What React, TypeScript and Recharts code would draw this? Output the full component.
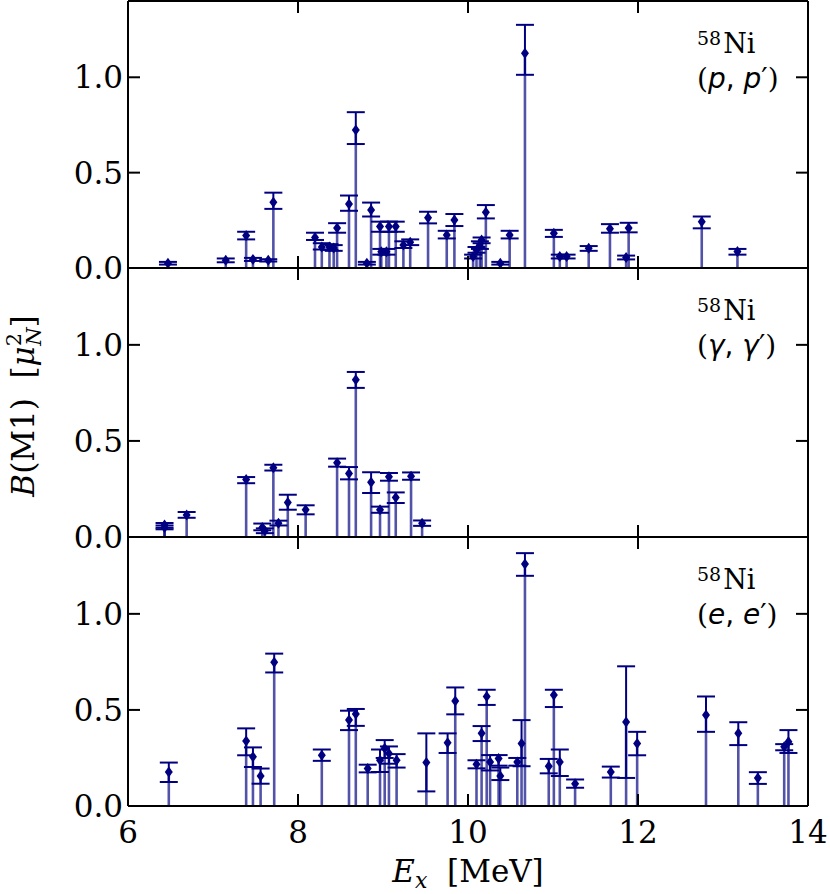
import React from 'react';
import { ComposedChart, Scatter, XAxis, YAxis, ErrorBar } from 'recharts';

// (p,p') panel
const ppEnergy = [6.47, 7.15, 7.39, 7.47, 7.65, 7.71, 8.2, 8.28, 8.37, 8.42, 8.46, 8.6, 8.68, 8.81, 8.86, 8.965, 8.98, 9.04, 9.07, 9.15, 9.24, 9.32, 9.53, 9.75, 9.84, 10.06, 10.1, 10.14, 10.16, 10.21, 10.38, 10.49, 10.67, 11.01, 11.08, 11.16, 11.42, 11.67, 11.86, 11.89, 12.75, 13.17];
const ppValue = [0.025, 0.04, 0.17, 0.045, 0.04, 0.345, 0.16, 0.11, 0.11, 0.105, 0.21, 0.335, 0.724, 0.025, 0.304, 0.217, 0.085, 0.085, 0.217, 0.217, 0.12, 0.135, 0.264, 0.173, 0.252, 0.06, 0.094, 0.12, 0.147, 0.292, 0.025, 0.173, 1.126, 0.182, 0.06, 0.06, 0.103, 0.206, 0.055, 0.21, 0.243, 0.086];
const ppLow = [0.018, 0.03, 0.15, 0.037, 0.034, 0.31, 0.147, 0.097, 0.095, 0.09, 0.185, 0.3, 0.65, 0.018, 0.27, 0.19, 0.07, 0.07, 0.19, 0.19, 0.105, 0.12, 0.234, 0.155, 0.22, 0.05, 0.08, 0.1, 0.13, 0.26, 0.018, 0.155, 1.013, 0.163, 0.05, 0.05, 0.09, 0.185, 0.045, 0.187, 0.208, 0.07];
const ppHigh = [0.032, 0.05, 0.19, 0.053, 0.046, 0.395, 0.185, 0.13, 0.125, 0.12, 0.235, 0.38, 0.817, 0.032, 0.343, 0.243, 0.1, 0.1, 0.243, 0.243, 0.14, 0.15, 0.295, 0.195, 0.283, 0.07, 0.11, 0.14, 0.16, 0.33, 0.032, 0.195, 1.275, 0.2, 0.07, 0.07, 0.115, 0.23, 0.065, 0.237, 0.27, 0.1];

// (gamma,gamma') panel
const ggEnergy = [6.43, 6.43, 6.69, 7.39, 7.58, 7.61, 7.71, 7.77, 7.88, 8.09, 8.46, 8.6, 8.68, 8.86, 8.965, 9.07, 9.15, 9.33, 9.46];
const ggValue = [0.063, 0.05, 0.115, 0.299, 0.05, 0.033, 0.36, 0.072, 0.18, 0.142, 0.387, 0.33, 0.818, 0.285, 0.142, 0.313, 0.206, 0.316, 0.072];
const ggLow = [0.048, 0.04, 0.1, 0.28, 0.035, 0.02, 0.346, 0.06, 0.142, 0.118, 0.366, 0.3, 0.776, 0.229, 0.126, 0.293, 0.177, 0.298, 0.058];
const ggHigh = [0.073, 0.06, 0.13, 0.312, 0.07, 0.045, 0.376, 0.085, 0.22, 0.165, 0.408, 0.364, 0.859, 0.337, 0.158, 0.333, 0.232, 0.336, 0.086];

// (e,e') panel
const eeEnergy = [6.48, 7.39, 7.47, 7.56, 7.72, 8.28, 8.6, 8.68, 8.82, 8.965, 9.02, 9.07, 9.16, 9.51, 9.76, 9.85, 10.1, 10.16, 10.22, 10.26, 10.36, 10.38, 10.58, 10.63, 10.67, 10.95, 11.01, 11.08, 11.26, 11.68, 11.86, 11.99, 12.8, 13.18, 13.41, 13.72, 13.77];
const eeValue = [0.177, 0.338, 0.256, 0.156, 0.748, 0.264, 0.448, 0.479, 0.195, 0.238, 0.3, 0.273, 0.238, 0.226, 0.329, 0.547, 0.217, 0.378, 0.57, 0.229, 0.247, 0.156, 0.229, 0.325, 1.259, 0.207, 0.578, 0.229, 0.116, 0.177, 0.437, 0.325, 0.474, 0.378, 0.146, 0.308, 0.334];
const eeLow = [0.125, 0.264, 0.203, 0.116, 0.695, 0.235, 0.395, 0.417, 0.175, 0.177, 0.25, 0.22, 0.2, 0.076, 0.276, 0.477, 0.196, 0.338, 0.526, 0.185, 0.21, 0.135, 0.21, 0.207, 1.198, 0.17, 0.515, 0.156, 0.095, 0.148, 0.146, 0.264, 0.386, 0.317, 0.115, 0.29, 0.276];
const eeHigh = [0.226, 0.404, 0.305, 0.195, 0.793, 0.294, 0.496, 0.505, 0.215, 0.294, 0.343, 0.31, 0.27, 0.378, 0.378, 0.617, 0.238, 0.416, 0.605, 0.265, 0.265, 0.2, 0.25, 0.447, 1.316, 0.245, 0.605, 0.294, 0.138, 0.205, 0.727, 0.386, 0.57, 0.436, 0.176, 0.322, 0.395];

const xTicks = [6, 8, 10, 12, 14];
const xTickLabels = ['6', '8', '10', '12', '14'];
const yTicks = [0, 0.5, 1.0];
const yTickLabels = ['0.0', '0.5', '1.0'];
const xDomain = [6, 14];
const yDomain = [0, 1.4];

const MARK = '#000080';
const STEM = 'rgba(0,0,128,0.68)';
const SERIF = '"DejaVu Serif", serif';
const SANS = '"DejaVu Sans", sans-serif';
const TICK_LEN = 12;

function build(E: number[], V: number[], L: number[], H: number[]) {
  return E.map((x, i) => ({
    x,
    y: V[i],
    err: [V[i] - L[i], H[i] - V[i]],
    stem: [V[i], 0],
  }));
}

const Diamond = (props: any) => {
  const { cx, cy } = props;
  if (cx == null || cy == null) return <g />;
  return (
    <path
      d={`M${cx},${cy - 5.5} L${cx + 4},${cy} L${cx},${cy + 5.5} L${cx - 4},${cy} Z`}
      fill={MARK}
    />
  );
};

const Empty = () => <g />;

const LeftTick = (props: any) => {
  const { x, y, payload } = props;
  const idx = yTicks.indexOf(payload.value);
  return (
    <g>
      <line x1={x} y1={y} x2={x + TICK_LEN} y2={y} stroke="#000" strokeWidth={2} />
      <text x={x - 5} y={y} dy="0.36em" textAnchor="end" fontFamily={SERIF} fontSize={31} fill="#000">
        {idx >= 0 ? yTickLabels[idx] : ''}
      </text>
    </g>
  );
};

const RightTick = (props: any) => {
  const { x, y } = props;
  return <line x1={x} y1={y} x2={x - TICK_LEN} y2={y} stroke="#000" strokeWidth={2} />;
};

const TopTick = (props: any) => {
  const { x, y } = props;
  return <line x1={x} y1={y} x2={x} y2={y + TICK_LEN} stroke="#000" strokeWidth={2} />;
};

const makeBottomTick = (show: boolean) => (props: any) => {
  const { x, y, payload } = props;
  const idx = xTicks.indexOf(payload.value);
  return (
    <g>
      <line x1={x} y1={y} x2={x} y2={y - TICK_LEN} stroke="#000" strokeWidth={2} />
      {show ? (
        <text x={x} y={y + 37} textAnchor="middle" fontFamily={SERIF} fontSize={31} fill="#000">
          {idx >= 0 ? xTickLabels[idx] : ''}
        </text>
      ) : null}
    </g>
  );
};

const PLOT_LEFT = 128;
const PLOT_RIGHT = 808;
const Y_LEFT_W = 60;
const Y_RIGHT_W = 10;
const X_H = 10;

function Panel({ data, top, height, showX }: { data: any[]; top: number; height: number; showX: boolean }) {
  const mTop = 22;
  const mBottom = showX ? 894 - (top + height) : 22;
  const axisLine = { stroke: '#000', strokeWidth: 2 };
  const bottomTick = makeBottomTick(showX);
  return (
    <div style={{ position: 'absolute', left: 0, top: top - mTop }}>
      <ComposedChart
        width={830}
        height={height + mTop + mBottom}
        data={data}
        style={{ overflow: 'visible' }}
        margin={{
          top: mTop - X_H,
          bottom: mBottom - X_H,
          left: PLOT_LEFT - Y_LEFT_W,
          right: 830 - PLOT_RIGHT - Y_RIGHT_W,
        }}
      >
        <XAxis
          xAxisId="b"
          type="number"
          dataKey="x"
          domain={xDomain}
          ticks={xTicks}
          interval={0}
          allowDataOverflow
          height={X_H}
          tickSize={0}
          tickMargin={0}
          tickLine={false}
          axisLine={axisLine}
          tick={bottomTick}
        />
        <XAxis
          xAxisId="t"
          orientation="top"
          type="number"
          dataKey="x"
          domain={xDomain}
          ticks={xTicks}
          interval={0}
          allowDataOverflow
          height={X_H}
          tickSize={0}
          tickMargin={0}
          tickLine={false}
          axisLine={axisLine}
          tick={TopTick}
        />
        <YAxis
          yAxisId="l"
          type="number"
          dataKey="y"
          domain={yDomain}
          ticks={yTicks}
          interval={0}
          allowDataOverflow
          width={Y_LEFT_W}
          tickSize={0}
          tickMargin={0}
          tickLine={false}
          axisLine={axisLine}
          tick={LeftTick}
        />
        <YAxis
          yAxisId="r"
          orientation="right"
          type="number"
          dataKey="y"
          domain={yDomain}
          ticks={yTicks}
          interval={0}
          allowDataOverflow
          width={Y_RIGHT_W}
          tickSize={0}
          tickMargin={0}
          tickLine={false}
          axisLine={axisLine}
          tick={RightTick}
        />
        <Scatter xAxisId="b" yAxisId="l" dataKey="y" shape={Empty} isAnimationActive={false}>
          <ErrorBar dataKey="stem" direction="y" width={0} stroke={STEM} strokeWidth={2.6} isAnimationActive={false} />
        </Scatter>
        <Scatter xAxisId="b" yAxisId="l" dataKey="y" shape={Diamond} isAnimationActive={false}>
          <ErrorBar dataKey="err" direction="y" width={9} stroke={MARK} strokeWidth={2} isAnimationActive={false} />
        </Scatter>
      </ComposedChart>
    </div>
  );
}

function Annotation({ top, letter }: { top: number; letter: string }) {
  const x = 697;
  return (
    <g>
      <text x={x} y={top + 52} fontFamily={SERIF} fontSize={27} fill="#000">
        <tspan fontSize={19} dy={-8}>58</tspan>
        <tspan dy={8} dx={2}>Ni</tspan>
      </text>
      <text x={x} y={top + 87} fontFamily={SANS} fontSize={28} fill="#000" style={{ whiteSpace: 'pre' }}>
        <tspan fontFamily={SERIF}>(</tspan>
        <tspan fontStyle="italic">{letter}</tspan>
        <tspan>, </tspan>
        <tspan fontStyle="italic">{letter}</tspan>
        <tspan>′</tspan>
        <tspan fontFamily={SERIF}>)</tspan>
      </text>
    </g>
  );
}

export default function App() {
  const pp = build(ppEnergy, ppValue, ppLow, ppHigh);
  const gg = build(ggEnergy, ggValue, ggLow, ggHigh);
  const ee = build(eeEnergy, eeValue, eeLow, eeHigh);
  return (
    <div style={{ position: 'absolute', left: 0, top: 0, width: 830, height: 894, background: '#fff' }}>
      <Panel data={pp} top={1} height={267} showX={false} />
      <Panel data={gg} top={268} height={269} showX={false} />
      <Panel data={ee} top={537} height={269} showX={true} />
      <svg
        width={830}
        height={894}
        style={{ position: 'absolute', left: 0, top: 0, pointerEvents: 'none' }}
      >
        <Annotation top={1} letter="p" />
        <Annotation top={268} letter="γ" />
        <Annotation top={537} letter="e" />
        <text x={468} y={882} textAnchor="middle" fontFamily={SERIF} fontSize={31} fill="#000" style={{ whiteSpace: 'pre' }}>
          <tspan fontStyle="italic">E</tspan>
          <tspan fontStyle="italic" fontSize={22} dy={6}>x</tspan>
          <tspan dy={-6}>{'  [MeV]'}</tspan>
        </text>
        <text
          transform="translate(34,406) rotate(-90)"
          textAnchor="middle"
          fontFamily={SERIF}
          fontSize={31}
          fill="#000"
          style={{ whiteSpace: 'pre' }}
        >
          <tspan fontStyle="italic">B</tspan>
          <tspan>{'(M1)  ['}</tspan>
          <tspan fontStyle="italic">μ</tspan>
          <tspan fontSize={21} dy={-13}>2</tspan>
          <tspan fontSize={21} fontStyle="italic" dx={-13} dy={20}>N</tspan>
          <tspan dy={-7}>]</tspan>
        </text>
      </svg>
    </div>
  );
}
